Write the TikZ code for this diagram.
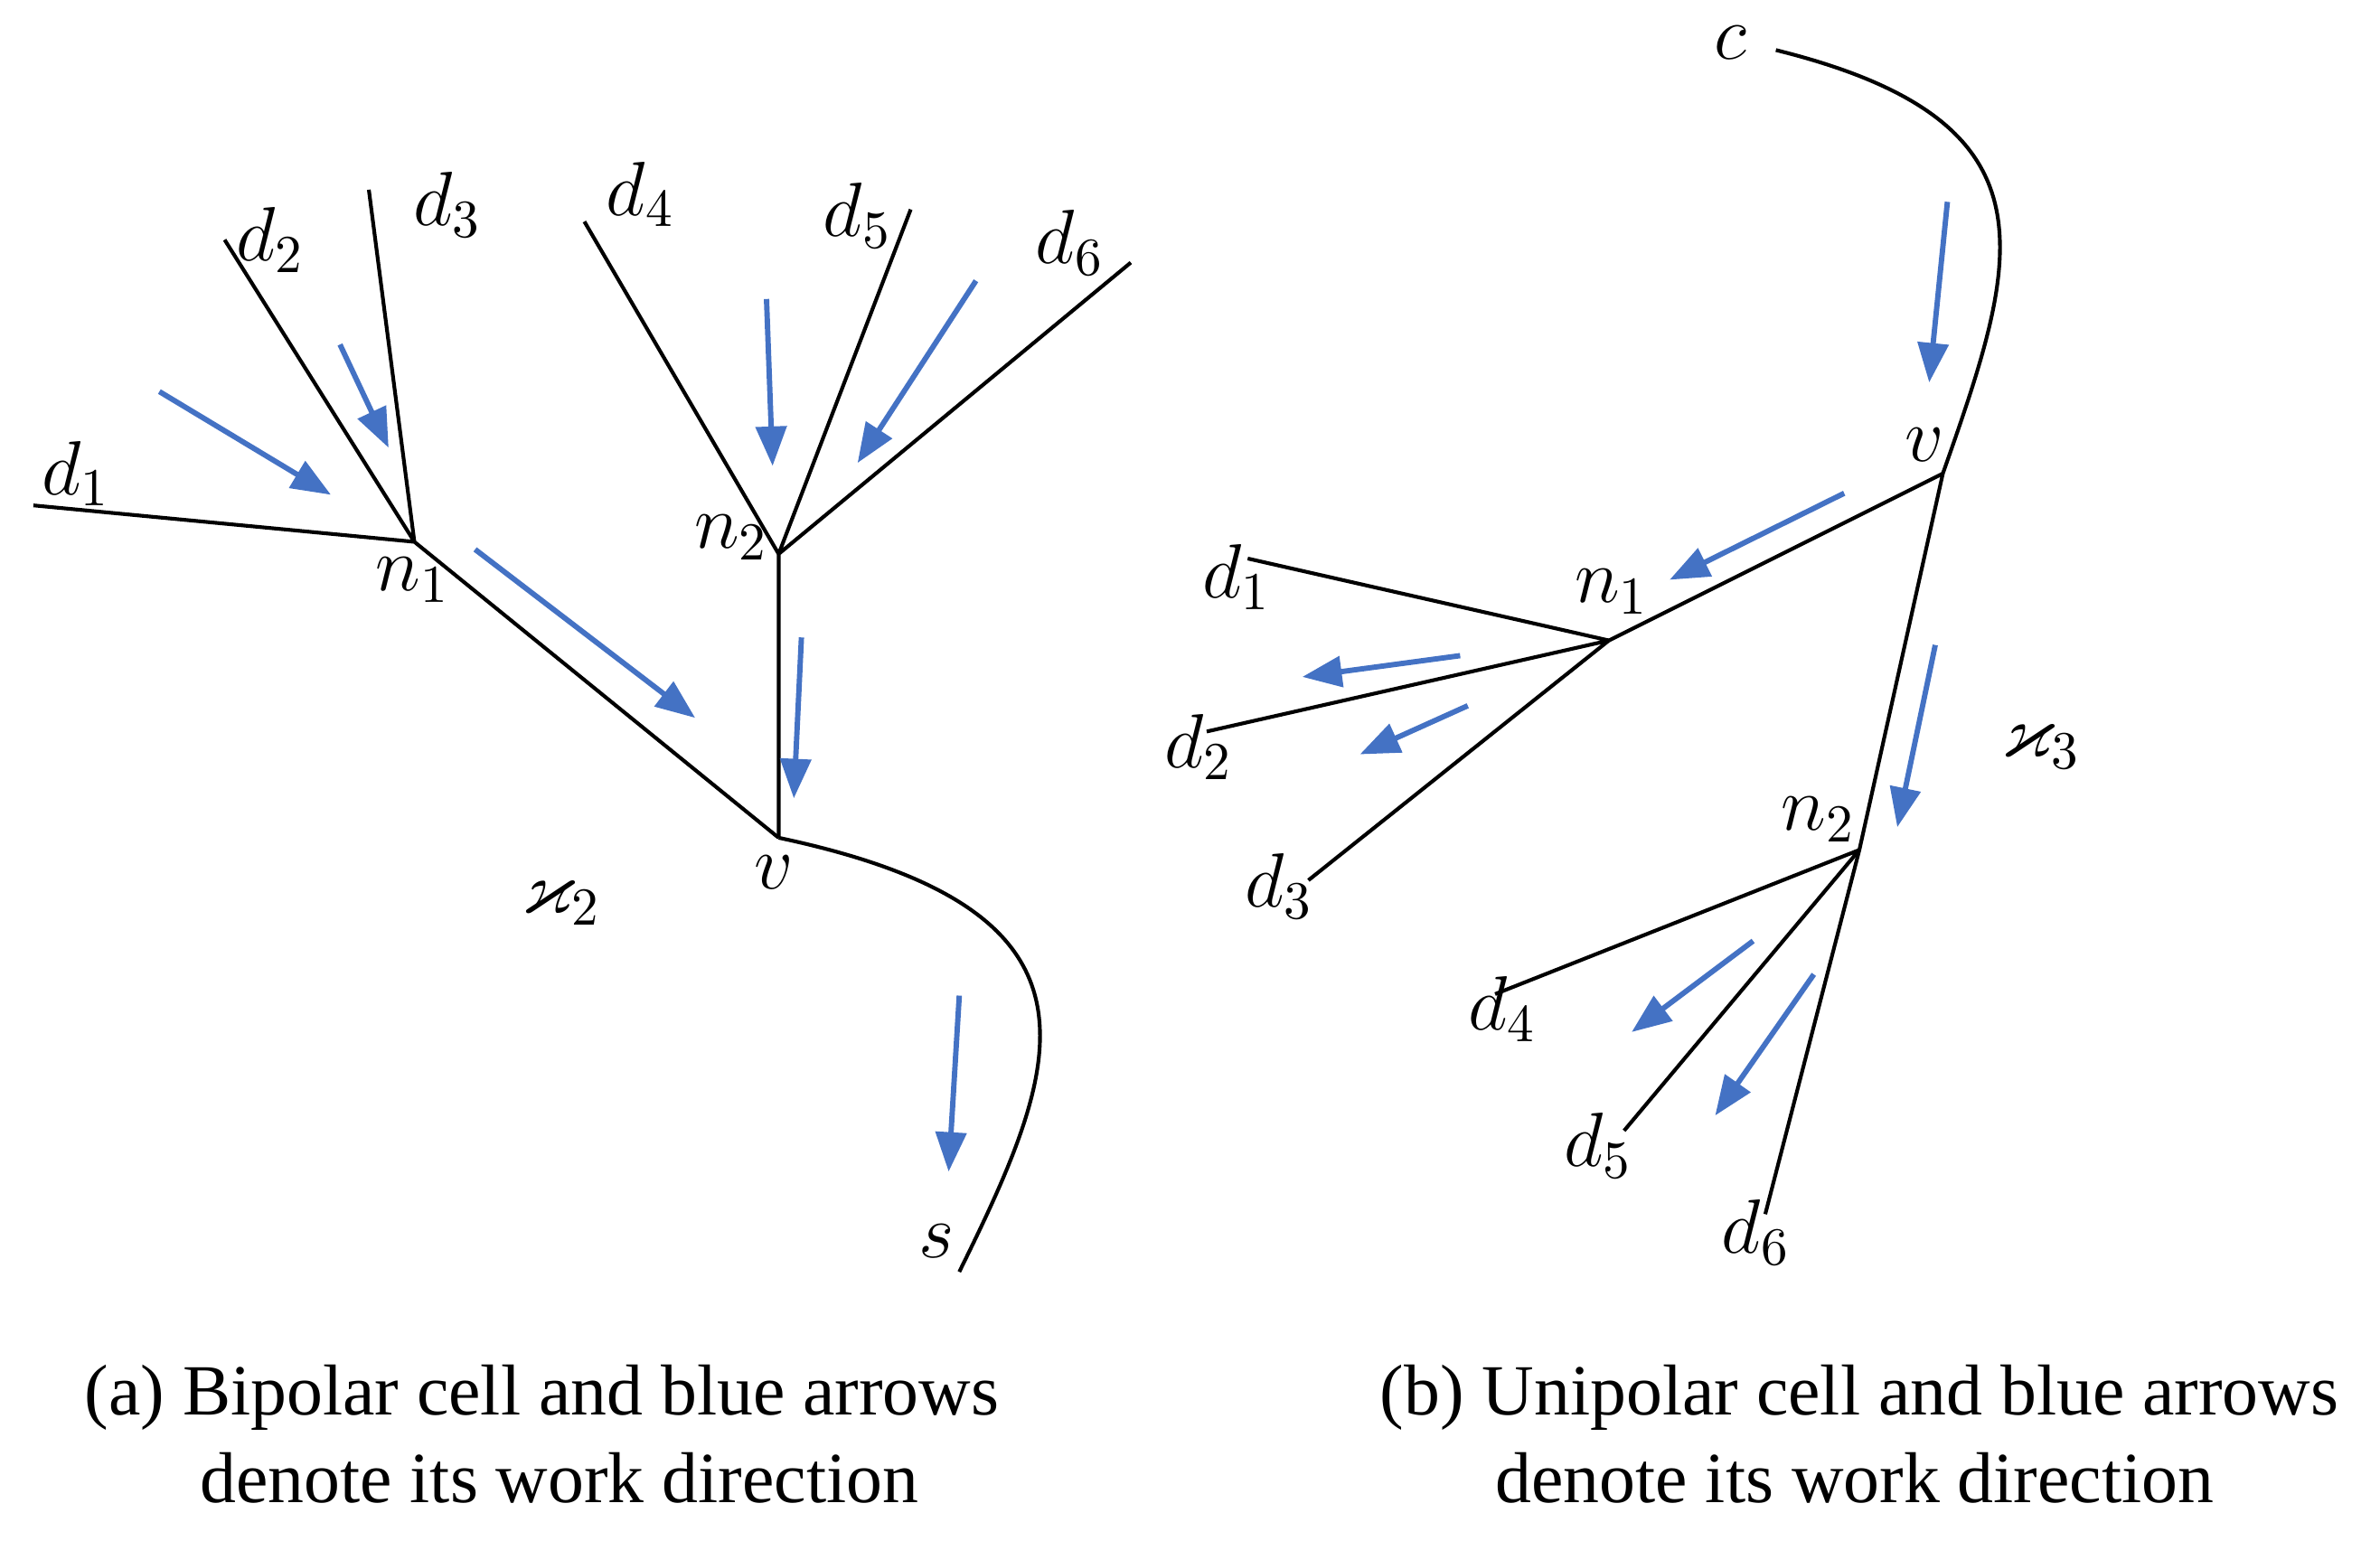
\documentclass[tikz,border=0pt]{standalone}
\usepackage{amssymb}
\usepackage{fontspec}
\setmainfont{Liberation Serif}
\usetikzlibrary{arrows.meta}
\definecolor{arrblue}{RGB}{68,114,196}
\begin{document}
\begin{tikzpicture}[x=0.01cm,y=-0.01cm,
  br/.style={black,line width=0.7pt},
  ba/.style={arrblue,line width=1pt,-{Triangle[length=0.26cm,width=0.2cm]}},
  lab/.style={font=\fontsize{14}{16}\selectfont,inner sep=0pt},
  captext/.style={font=\fontsize{13.5}{16.5}\selectfont,align=left,inner sep=0pt}]
\useasboundingbox (0,0) rectangle (1568,1015);
% ---- left
\coordinate (Ln1) at (273,357); \coordinate (Ln2) at (513,365); \coordinate (Lv) at (513,552);
\coordinate (Ld1) at (22,333); \coordinate (Ld2) at (148,158); \coordinate (Ld3) at (243,125);
\coordinate (Ld4) at (385,146); \coordinate (Ld5) at (600,138); \coordinate (Ld6) at (745,173);
\coordinate (Ls) at (632,838);
\draw[br] (Ld1)--(Ln1) (Ld2)--(Ln1) (Ld3)--(Ln1) (Ln1)--(Lv);
\draw[br] (Ld4)--(Ln2) (Ld5)--(Ln2) (Ld6)--(Ln2) (Ln2)--(Lv);
\draw[br] (Lv) .. controls (740,600) and (700,700) .. (Ls);
\node[lab] (tLd1) at (50,312) {$d_1$};
\node[lab] (tLd2) at (178,158) {$d_2$};
\node[lab] (tLd3) at (295,135) {$d_3$};
\node[lab] (tLd4) at (422,128) {$d_4$};
\node[lab] (tLd5) at (565,142) {$d_5$};
\node[lab] (tLd6) at (705,160) {$d_6$};
\node[lab] (tLn1) at (272,382) {$n_1$};
\node[lab] (tLn2) at (482,354) {$n_2$};
\node[lab] (tLv) at (510,575) {$v$};
\node[lab] (tLk) at (370,595) {$\varkappa_2$};
\node[lab] (tLs) at (617,818) {$s$};
\coordinate (a1s) at (105,258); \coordinate (a1e) at (218,326);
\coordinate (a2s) at (224,227); \coordinate (a2e) at (256,295);
\coordinate (a3s) at (313,362); \coordinate (a3e) at (458,473);
\coordinate (a4s) at (505,197); \coordinate (a4e) at (509,307);
\coordinate (a5s) at (643,185); \coordinate (a5e) at (565,305);
\coordinate (a6s) at (528,420); \coordinate (a6e) at (523,526);
\coordinate (a7s) at (632,656); \coordinate (a7e) at (625,772);
\foreach \i in {1,...,7} \draw[ba] (a\i s)--(a\i e);
% ---- right
\coordinate (Rc) at (1170,33); \coordinate (Rv) at (1280,312); \coordinate (Rn1) at (1060,422);
\coordinate (Rn2) at (1225,560);
\coordinate (Rd1) at (822,368); \coordinate (Rd2) at (795,482); \coordinate (Rd3) at (862,580);
\coordinate (Rd4) at (985,655); \coordinate (Rd5) at (1070,745); \coordinate (Rd6) at (1163,800);
\draw[br] (Rc) .. controls (1360,80) and (1330,170) .. (Rv);
\draw[br] (Rv)--(Rn2)--(Rd6) (Rv)--(Rn1);
\draw[br] (Rd1)--(Rn1) (Rd2)--(Rn1) (Rd3)--(Rn1);
\draw[br] (Rd4)--(Rn2) (Rd5)--(Rn2);
\node[lab] (tRc) at (1140,28) {$c$};
\node[lab] (tRv) at (1268,293) {$v$};
\node[lab] (tRn1) at (1062,390) {$n_1$};
\node[lab] (tRn2) at (1198,540) {$n_2$};
\node[lab] (tRd1) at (815,380) {$d_1$};
\node[lab] (tRd2) at (790,492) {$d_2$};
\node[lab] (tRd3) at (843,584) {$d_3$};
\node[lab] (tRd4) at (990,665) {$d_4$};
\node[lab] (tRd5) at (1053,755) {$d_5$};
\node[lab] (tRd6) at (1157,812) {$d_6$};
\node[lab] (tRk) at (1345,492) {$\varkappa_3$};
\coordinate (b1s) at (1283,133); \coordinate (b1e) at (1271,252);
\coordinate (b2s) at (1215,325); \coordinate (b2e) at (1100,382);
\coordinate (b3s) at (962,432); \coordinate (b3e) at (858,446);
\coordinate (b4s) at (967,465); \coordinate (b4e) at (896,497);
\coordinate (b5s) at (1275,425); \coordinate (b5e) at (1250,545);
\coordinate (b6s) at (1155,620); \coordinate (b6e) at (1075,680);
\coordinate (b7s) at (1195,642); \coordinate (b7e) at (1130,735);
\foreach \i in {1,...,7} \draw[ba] (b\i s)--(b\i e);
% captions
\node[captext] (capa) at (357,945) {(a) Bipolar cell and blue arrows\\ \hspace*{1.6em}denote its work direction};
\node[captext] (capb) at (1225,945) {(b) Unipolar cell and blue arrows\\ \hspace*{1.6em}denote its work direction};
\end{tikzpicture}
\end{document}
